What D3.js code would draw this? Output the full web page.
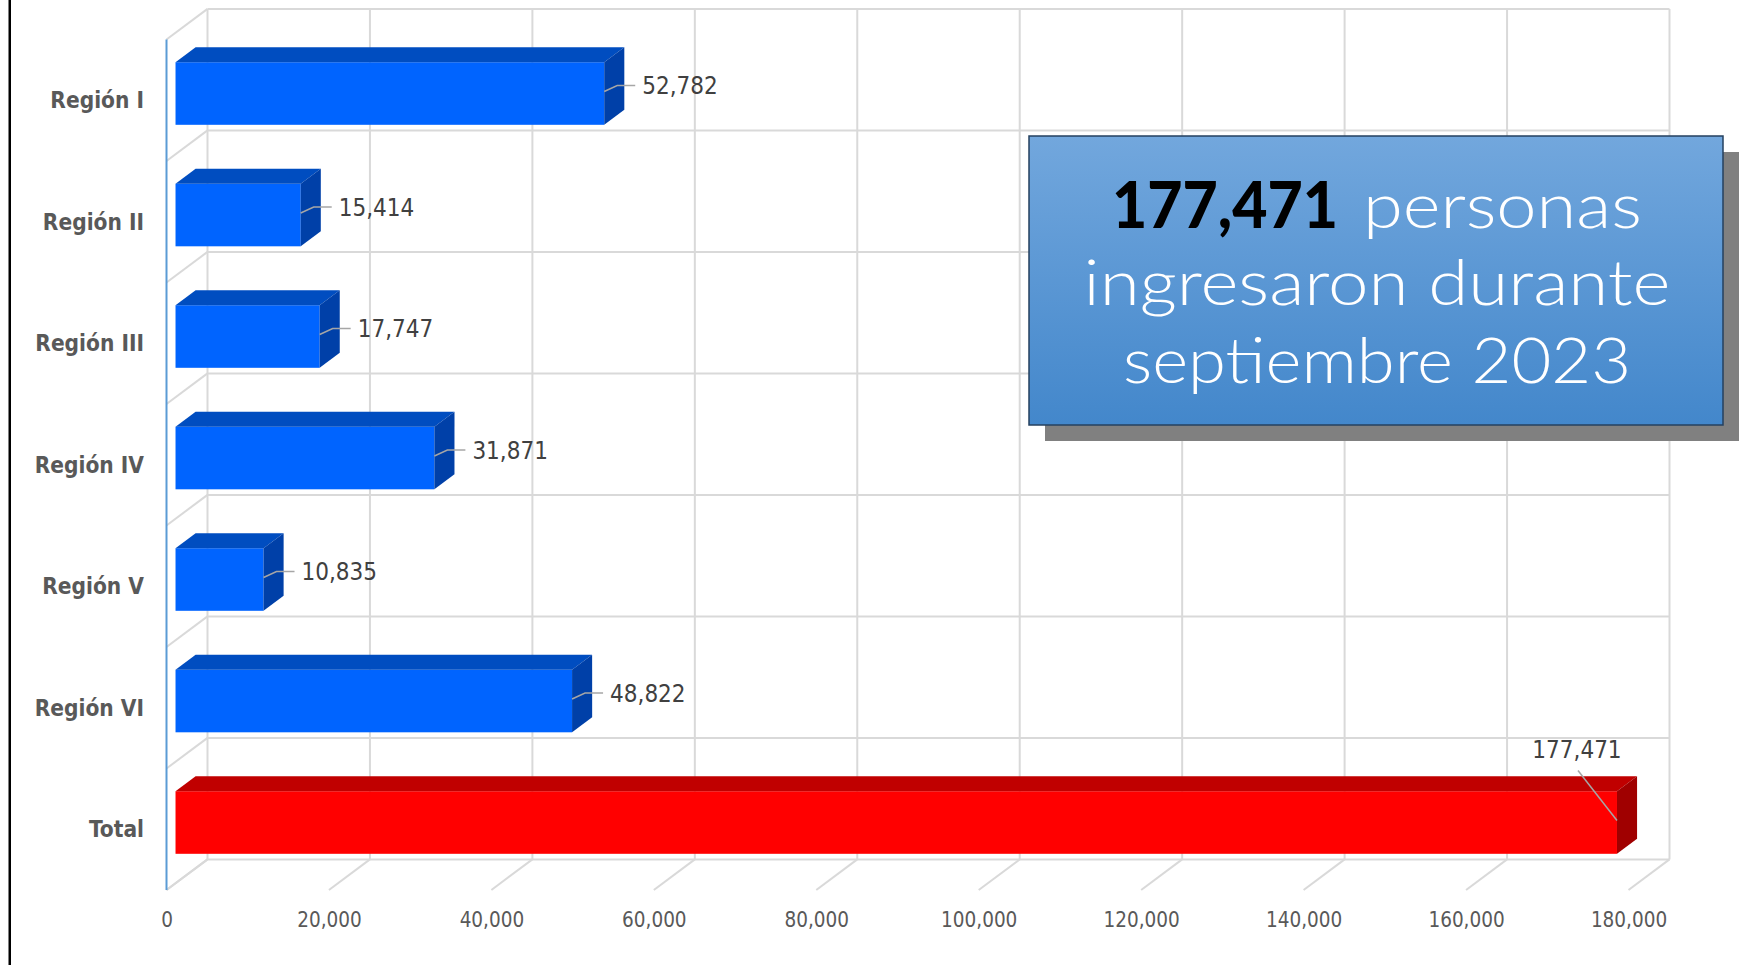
<!DOCTYPE html>
<html>
<head>
<meta charset="utf-8">
<script src="https://cdn.jsdelivr.net/npm/d3@7"></script>
<style>
  html, body { margin: 0; padding: 0; background: #fff; }
  svg { display: block; }
  .num { font-family: 'DejaVu Sans Condensed', 'DejaVu Sans', sans-serif; font-stretch: condensed; }
</style>
</head>
<body>
<div id="vis"></div>
<script>
// data
const categories = ['Región I', 'Región II', 'Región III', 'Región IV', 'Región V', 'Región VI', 'Total'];
const values = [52782, 15414, 17747, 31871, 10835, 48822, 177471];
const tickValues = [0, 20000, 40000, 60000, 80000, 100000, 120000, 140000, 160000, 180000];
const headlineBold = '177,471';
const headlineLines = ['personas', 'ingresaron durante', 'septiembre 2023'];

const W = 1741, H = 965;
const fmt = d3.format(',');

// 3d box: back wall + depth offset towards the viewer
const depth = {dx: -41, dy: 30.6};
const barFront = 0.78, barBack = 0.29; // where the bar sits inside the depth

const xScale = d3.scaleLinear().domain([0, 180000]).range([207.5, 1669.5]);
const yScale = d3.scaleBand().domain(categories).range([8.9, 859.4])
    .paddingInner(0.485).paddingOuter(0.2425);
const wallTop = 8.9, wallBottom = 859.4;

const blue = {front: '#0064FF', top: '#004DC0', side: '#0040A8'};
const red = {front: '#FF0000', top: '#C00000', side: '#A00000'};

const svg = d3.select('#vis').append('svg')
    .attr('width', W).attr('height', H);

const defs = svg.append('defs');
const grad = defs.append('linearGradient').attr('id', 'boxGrad')
    .attr('x1', 0).attr('y1', 0).attr('x2', 0).attr('y2', 1);
grad.append('stop').attr('offset', '0%').attr('stop-color', '#72A7DD');
grad.append('stop').attr('offset', '100%').attr('stop-color', '#4387CB');

// left frame line
svg.append('rect').attr('x', 8.5).attr('y', 0).attr('width', 2.5).attr('height', H).attr('fill', '#000');

// grid
const grid = svg.append('g').attr('stroke', '#D9D9D9').attr('stroke-width', 2).attr('fill', 'none');
const step = yScale.step();
const hLines = d3.range(categories.length + 1).map(i => wallTop + i * step);

// back wall horizontals + left wall diagonals
hLines.forEach(y => {
    grid.append('line').attr('x1', xScale(0)).attr('x2', xScale(180000)).attr('y1', y).attr('y2', y);
    grid.append('line').attr('x1', xScale(0)).attr('y1', y)
        .attr('x2', xScale(0) + depth.dx).attr('y2', y + depth.dy);
});
// back wall verticals + floor diagonals
tickValues.forEach(t => {
    grid.append('line').attr('x1', xScale(t)).attr('x2', xScale(t)).attr('y1', wallTop).attr('y2', wallBottom);
    grid.append('line').attr('x1', xScale(t)).attr('y1', wallBottom)
        .attr('x2', xScale(t) + depth.dx).attr('y2', wallBottom + depth.dy);
});

// front axis line
svg.append('line')
    .attr('x1', xScale(0) + depth.dx).attr('x2', xScale(0) + depth.dx)
    .attr('y1', wallTop + depth.dy).attr('y2', wallBottom + depth.dy)
    .attr('stroke', '#5B9BD5').attr('stroke-width', 2);

// x tick labels on the front edge of the floor
const xFloor = d3.scaleLinear().domain(xScale.domain()).range(xScale.range().map(r => r + depth.dx));
const xAxis = svg.append('g')
    .attr('transform', `translate(0,${920})`)
    .call(d3.axisBottom(xFloor).tickValues(tickValues).tickSize(0).tickFormat(fmt));
xAxis.select('.domain').remove();
xAxis.selectAll('text')
    .attr('class', 'num')
    .attr('y', 0).attr('dy', '0.36em')
    .attr('fill', '#595959')
    .style('font-size', '20.5px');

// category labels
svg.selectAll('.cat')
    .data(categories)
    .join('text')
    .attr('class', 'cat')
    .attr('x', 144)
    .attr('y', d => yScale(d) + yScale.bandwidth() / 2 + depth.dy)
    .attr('dy', '0.36em')
    .attr('text-anchor', 'end')
    .attr('fill', '#595959')
    .style('font-family', "'DejaVu Sans Condensed', 'DejaVu Sans', sans-serif")
    .style('font-stretch', 'condensed')
    .style('font-weight', 'bold')
    .style('font-size', '22.5px')
    .text(d => d);

// bars
const bars = categories.map((c, i) => {
    const fx = depth.dx * barFront, fy = depth.dy * barFront;
    const bx = depth.dx * barBack, by = depth.dy * barBack;
    const x0 = xScale(0) + fx, x1 = xScale(values[i]) + fx;
    const y0 = yScale(c) + fy, y1 = yScale(c) + yScale.bandwidth() + fy;
    const ox = bx - fx, oy = by - fy;
    return {c, v: values[i], x0, x1, y0, y1, ox, oy, col: c === 'Total' ? red : blue};
});

const barG = svg.selectAll('.bar').data(bars).join('g').attr('class', 'bar');
barG.append('rect')
    .attr('x', d => d.x0).attr('y', d => d.y0)
    .attr('width', d => d.x1 - d.x0).attr('height', d => d.y1 - d.y0)
    .attr('fill', d => d.col.front);
barG.append('path')
    .attr('d', d => `M${d.x0},${d.y0}L${d.x1},${d.y0}L${d.x1 + d.ox},${d.y0 + d.oy}L${d.x0 + d.ox},${d.y0 + d.oy}Z`)
    .attr('fill', d => d.col.top);
barG.append('path')
    .attr('d', d => `M${d.x1},${d.y0}L${d.x1 + d.ox},${d.y0 + d.oy}L${d.x1 + d.ox},${d.y1 + d.oy}L${d.x1},${d.y1}Z`)
    .attr('fill', d => d.col.side);

// data labels with leader lines
const maxV = d3.max(values);
barG.each(function(d) {
    const g = d3.select(this);
    const cy = (d.y0 + d.y1) / 2;
    if (d.v === maxV) {
        // no room on the right: label goes above, leader points back to the bar
        g.append('line')
            .attr('x1', d.x1).attr('y1', cy - 2)
            .attr('x2', d.x1 - 39).attr('y2', cy - 52)
            .attr('stroke', '#A6A6A6').attr('stroke-width', 1.5);
        g.append('text').attr('class', 'num')
            .attr('x', d.x1 - 40).attr('y', cy - 73).attr('dy', '0.36em')
            .attr('text-anchor', 'middle')
            .attr('fill', '#404040').style('font-size', '24px')
            .text(fmt(d.v));
    } else {
        g.append('polyline')
            .attr('points', `${d.x1},${cy - 2} ${d.x1 + 13},${cy - 8} ${d.x1 + 31},${cy - 8}`)
            .attr('fill', 'none')
            .attr('stroke', '#A6A6A6').attr('stroke-width', 1.5);
        g.append('text').attr('class', 'num')
            .attr('x', d.x1 + 38).attr('y', cy - 8).attr('dy', '0.36em')
            .attr('fill', '#404040').style('font-size', '24px')
            .text(fmt(d.v));
    }
});

// headline box
const box = {x: 1029, y: 136, w: 694, h: 289};
svg.append('rect')
    .attr('x', box.x + 16).attr('y', box.y + 16).attr('width', box.w).attr('height', box.h)
    .attr('fill', '#808080');
svg.append('rect')
    .attr('x', box.x).attr('y', box.y).attr('width', box.w).attr('height', box.h)
    .attr('fill', 'url(#boxGrad)')
    .attr('stroke', '#24405F').attr('stroke-width', 1.5);

// the original uses a wide geometric face; stretch the fallback font to the same widths
const boxFont = "Lato, 'Open Sans', sans-serif";
const cx = box.x + box.w / 2 + 1;
const baselines = [227.7, 305, 383.3];
const line1 = {bold: 226, gap: 25, rest: 279};
const x1start = cx - (line1.bold + line1.gap + line1.rest) / 2;

svg.append('text')
    .attr('x', x1start).attr('y', baselines[0])
    .attr('textLength', line1.bold).attr('lengthAdjust', 'spacingAndGlyphs')
    .attr('fill', '#000')
    .style('font-family', boxFont).style('font-weight', 900).style('font-size', '64px')
    .text(headlineBold);
svg.append('text')
    .attr('x', x1start + line1.bold + line1.gap).attr('y', baselines[0])
    .attr('textLength', line1.rest).attr('lengthAdjust', 'spacingAndGlyphs')
    .attr('fill', '#fff')
    .style('font-family', boxFont).style('font-weight', 300).style('font-size', '64px')
    .text(headlineLines[0]);

const otherWidths = [587, 508];
headlineLines.slice(1).forEach((l, i) => {
    svg.append('text')
        .attr('x', cx - otherWidths[i] / 2).attr('y', baselines[i + 1])
        .attr('textLength', otherWidths[i]).attr('lengthAdjust', 'spacingAndGlyphs')
        .attr('fill', '#fff')
        .style('font-family', boxFont).style('font-weight', 300).style('font-size', '64px')
        .text(l);
});
</script>
</body>
</html>
